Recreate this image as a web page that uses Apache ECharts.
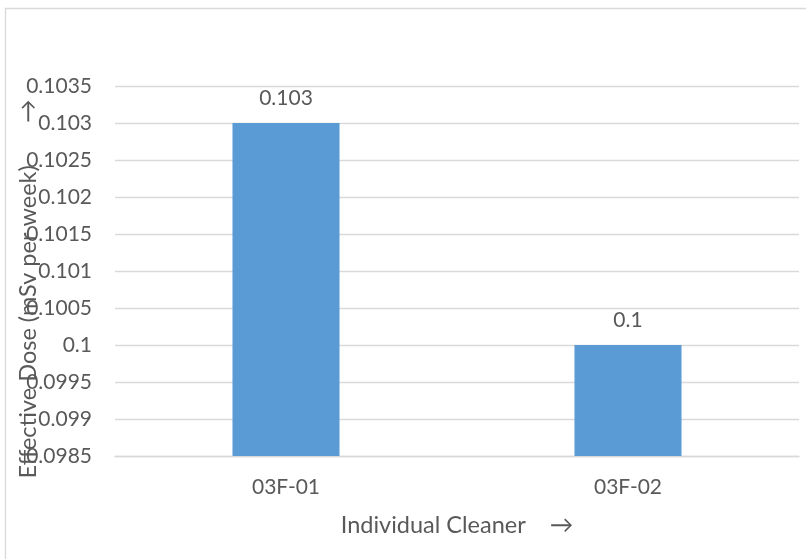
<!DOCTYPE html>
<html>
<head>
<meta charset="utf-8">
<script src="https://cdn.jsdelivr.net/npm/echarts@6/dist/echarts.min.js"></script>
<style>
  html, body { margin: 0; padding: 0; background: #fff; }
  #chart { width: 806px; height: 559px; }
</style>
</head>
<body>
<div id="chart"></div>
<script>
// Weekly effective dose per individual cleaner
const categories = ['03F-01', '03F-02'];
const doseValues = [0.103, 0.1];
const yMin = 0.0985;
const yMax = 0.1035;
const yStep = 0.0005;

const FONT = 'Lato';
const TEXT = '#595959';
const GRID = '#d9d9d9';

const chart = echarts.init(document.getElementById('chart'));

const fmt = v => String(parseFloat(Number(v).toFixed(4)));

chart.setOption({
  animation: false,
  textStyle: { fontFamily: FONT },
  grid: { left: 115, right: 7, top: 86, bottom: 103 },
  xAxis: {
    type: 'category',
    data: categories,
    name: 'Individual Cleaner    \u2192',
    nameLocation: 'middle',
    nameGap: 57,
    nameTextStyle: { color: TEXT, fontSize: 23.5, fontFamily: FONT, verticalAlign: 'top' },
    axisLine: { lineStyle: { color: GRID, width: 1.3 } },
    axisTick: { show: false },
    axisLabel: { color: TEXT, fontSize: 21, fontFamily: FONT, margin: 21 }
  },
  yAxis: {
    type: 'value',
    min: yMin,
    max: yMax,
    interval: yStep,
    axisLine: { show: false },
    axisTick: { show: false },
    splitLine: { lineStyle: { color: GRID, width: 1.3 } },
    axisLabel: { color: TEXT, fontSize: 21, fontFamily: FONT, margin: 23, formatter: fmt }
  },
  series: [{
    type: 'bar',
    data: doseValues,
    barWidth: '31.3%',
    itemStyle: { color: '#5b9bd5' },
    label: {
      show: true,
      position: 'top',
      distance: 14,
      color: TEXT,
      fontSize: 21,
      fontFamily: FONT,
      formatter: p => fmt(p.value)
    }
  }],
  graphic: [
    {
      type: 'rect',
      shape: { x: 5.5, y: 8.5, width: 900, height: 700 },
      style: { fill: 'none', stroke: GRID, lineWidth: 1.3 },
      silent: true,
      z: -1
    },
    {
      type: 'text',
      x: 28,
      y: 289,
      rotation: Math.PI / 2,
      style: {
        text: 'Effective Dose (mSv per week)       \u2192',
        fill: TEXT,
        font: '23.5px ' + FONT,
        textAlign: 'center',
        textVerticalAlign: 'middle'
      }
    }
  ]
});
</script>
</body>
</html>
